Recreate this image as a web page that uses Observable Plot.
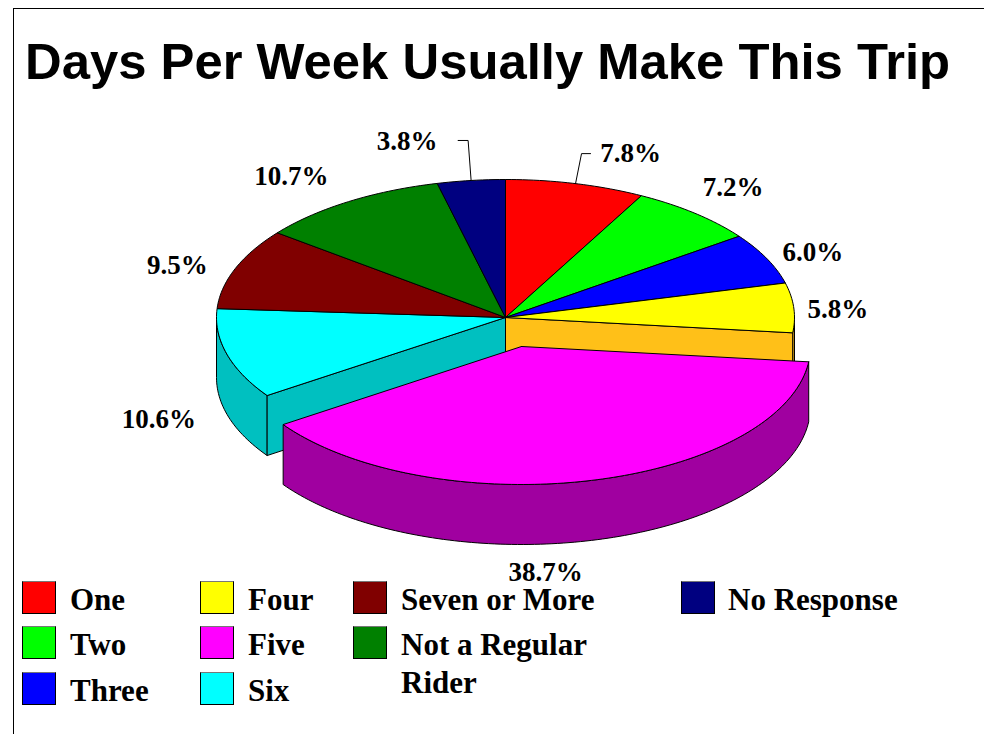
<!DOCTYPE html>
<html>
<head>
<meta charset="utf-8">
<script src="https://cdn.jsdelivr.net/npm/d3@7"></script>
<script src="https://cdn.jsdelivr.net/npm/@observablehq/plot@0.6"></script>
<style>
  html, body { margin: 0; padding: 0; background: #fff; overflow: hidden; }
  #page { position: relative; width: 984px; height: 734px; overflow: hidden; }
  #frame { position: absolute; left: 13px; top: 8px; right: -2px; bottom: -2px; border-left: 1px solid #000; border-top: 1px solid #000; }
  #title { position: absolute; left: 25px; top: 33px; font: bold 50.8px/58px "Liberation Sans", Arial, sans-serif; white-space: nowrap; color: #000; }
  #chart { position: absolute; left: 0; top: 100px; }
  #chart svg { display: block; background: transparent; }
  #legend { position: absolute; left: 0; top: 0; font: bold 31px/30px "Liberation Serif", "Times New Roman", serif; color: #000; }
  .swatch { position: absolute; width: 32px; height: 31px; border: 1px solid #000; border-top-color: #777; box-sizing: content-box; }
  .entry { position: absolute; white-space: nowrap; }
</style>
</head>
<body>
<div id="page">
  <div id="frame"></div>
  <div id="title">Days Per Week Usually Make This Trip</div>
  <div id="chart"></div>
  <div id="legend"></div>
</div>
<script>
// ---------- data ----------
const categories = ["One", "Two", "Three", "Four", "Five", "Six", "Seven or More", "Not a Regular Rider", "No Response"];
const shares = [7.8, 7.2, 6.0, 5.8, 38.7, 10.6, 9.5, 10.7, 3.8];
const labels = ["7.8%", "7.2%", "6.0%", "5.8%", "38.7%", "10.6%", "9.5%", "10.7%", "3.8%"];
const topColors = ["#ff0000", "#00ff00", "#0000ff", "#ffff00", "#ff00ff", "#00ffff", "#800000", "#008000", "#000080"];
const wallColors = { Four: "#ffc018", Five: "#a000a0", Six: "#00c0c0" };

// ---------- layout (pixels) ----------
const W = 984, H = 490, plotTop = 100;
const cx = 505, cy = 317, rx = 289, ry = 138, depth = 60;
const explode = { Five: [16, 29] };
const labelNudges = [[55, -30], [38, -26], [46, -6], [44, 2], [-46, 92], [-68, 65], [-58, -3], [-57, -25], [-64, -39]];
const leaderNudges = { One: [[6, -30], [15, -30]], "No Response": [[-3, -40], [-13, -40]] };
const legendRows = [581, 626, 672];
const legendSwatchX = [22, 200, 353, 681];
const legendTextX = [70, 248, 401, 728];
const legendColumns = [["One", "Two", "Three"], ["Four", "Five", "Six"], ["Seven or More", "Not a Regular Rider"], ["No Response"]];

// ---------- pie geometry, in units of the pie's radius ----------
const total = d3.sum(shares);
let acc = 0;
const slices = categories.map((name, i) => {
  const a0 = acc / total * 2 * Math.PI;
  acc += shares[i];
  const a1 = acc / total * 2 * Math.PI;
  const [ex, ey] = explode[name] || [0, 0];
  return { name, i, a0, a1, ox: ex / rx, oy: -ey / ry };
});
const dz = depth / ry;
const pt = (s, a, z = 0) => [s.ox + Math.sin(a), s.oy + Math.cos(a) - z];
function arc(s, a0, a1, z = 0) {
  const n = Math.max(2, Math.ceil(Math.abs(a1 - a0) / 0.02));
  return d3.range(n + 1).map(k => pt(s, a0 + (a1 - a0) * k / n, z));
}
const polys = [];
function addPoly(id, fill, pts) {
  const closed = [...pts, pts[0]];
  closed.forEach(([x, y]) => polys.push({ id, fill, x, y }));
}
const byName = Object.fromEntries(slices.map(s => [s.name, s]));
const four = byName.Four, five = byName.Five, six = byName.Six;
// walls behind everything
addPoly("wall-six-outer", wallColors.Six, [...arc(six, six.a0, 1.5 * Math.PI), ...arc(six, 1.5 * Math.PI, six.a0, dz)]);
addPoly("wall-six-inner", wallColors.Six, [[six.ox, six.oy], pt(six, six.a0), pt(six, six.a0, dz), [six.ox, six.oy - dz]]);
addPoly("wall-four-outer", wallColors.Four, [...arc(four, Math.PI / 2, four.a1), ...arc(four, four.a1, Math.PI / 2, dz)]);
addPoly("wall-four-inner", wallColors.Four, [[four.ox, four.oy], pt(four, four.a1), pt(four, four.a1, dz), [four.ox, four.oy - dz]]);
// flat tops
slices.filter(s => s.name !== "Five").forEach(s => {
  addPoly("top-" + s.name, topColors[s.i], [[s.ox, s.oy], ...arc(s, s.a0, s.a1)]);
});
// exploded slice last
addPoly("wall-five", wallColors.Five, [...arc(five, five.a0, five.a1), ...arc(five, five.a1, five.a0, dz)]);
addPoly("top-five", topColors[five.i], [[five.ox, five.oy], ...arc(five, five.a0, five.a1)]);

const anchor = s => pt(s, (s.a0 + s.a1) / 2);
const labelData = slices.map(s => {
  const [x, y] = anchor(s);
  const [nx, ny] = labelNudges[s.i];
  return { text: labels[s.i], x: x + nx / rx, y: y - ny / ry };
});
const leaders = Object.entries(leaderNudges).flatMap(([name, nudges]) => {
  const [x, y] = anchor(byName[name]);
  return [{ id: name, x, y }, ...nudges.map(([nx, ny]) => ({ id: name, x: x + nx / rx, y: y - ny / ry }))];
});

// ---------- chart ----------
const chart = Plot.plot({
  width: W, height: H,
  margin: 0,
  x: { domain: [-cx / rx, (W - cx) / rx], range: [0, W], axis: null },
  y: { domain: [(cy - plotTop) / ry, -(plotTop + H - cy) / ry], range: [0, H], axis: null },
  color: { type: "identity" },
  marks: [
    Plot.line(polys, { x: "x", y: "y", z: "id", fill: "fill", stroke: "#000", strokeWidth: 1, strokeLinejoin: "miter", curve: "linear" }),
    Plot.line(leaders, { x: "x", y: "y", z: "id", stroke: "#000", strokeWidth: 1, fill: "none", curve: "linear" }),
    Plot.text(labelData, { x: "x", y: "y", text: "text", fontFamily: "Liberation Serif, Times New Roman, serif", fontWeight: "bold", fontSize: 27, fill: "#000", textAnchor: "middle" })
  ]
});
document.getElementById("chart").appendChild(chart);

// ---------- legend ----------
const legend = document.getElementById("legend");
legendColumns.forEach((col, c) => {
  col.forEach((name, r) => {
    const sw = document.createElement("div");
    sw.className = "swatch";
    sw.style.left = legendSwatchX[c] + "px";
    sw.style.top = legendRows[r] + "px";
    sw.style.background = topColors[categories.indexOf(name)];
    legend.appendChild(sw);
    const lines = name === "Not a Regular Rider" ? ["Not a Regular", "Rider"] : [name];
    lines.forEach((line, l) => {
      const t = document.createElement("div");
      t.className = "entry";
      t.style.left = legendTextX[c] + "px";
      t.style.top = (legendRows[r] + 4 + l * 38) + "px";
      t.textContent = line;
      legend.appendChild(t);
    });
  });
});
</script>
</body>
</html>
